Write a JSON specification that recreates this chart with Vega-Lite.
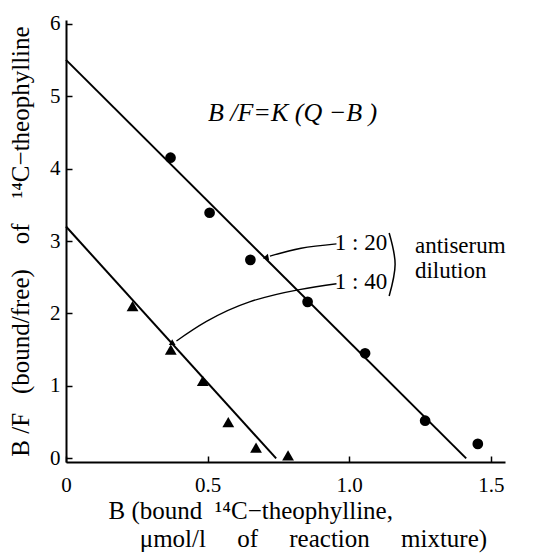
{
  "$schema": "https://vega.github.io/schema/vega-lite/v6.json",
  "autosize": "none",
  "width": 439,
  "height": 442,
  "padding": {"left": 66, "top": 20, "right": 31, "bottom": 92},
  "background": "white",
  "config": {
    "view": {"stroke": null},
    "font": "Liberation Serif",
    "text": {"font": "Liberation Serif"},
    "axis": {"grid": false, "domainColor": "black", "domainWidth": 2, "tickColor": "black", "tickWidth": 1.5, "labelColor": "black", "titleColor": "black", "labelFont": "Liberation Serif", "titleFont": "Liberation Serif", "labelFontSize": 21, "titleFontSize": 25, "titleFontWeight": "normal"}
  },
  "datasets": {
    "obs": [
      {"dilution": "1:20", "B": 0.369, "BF": 4.15},
      {"dilution": "1:20", "B": 0.507, "BF": 3.39},
      {"dilution": "1:20", "B": 0.651, "BF": 2.74},
      {"dilution": "1:20", "B": 0.853, "BF": 2.16},
      {"dilution": "1:20", "B": 1.056, "BF": 1.45},
      {"dilution": "1:20", "B": 1.268, "BF": 0.52},
      {"dilution": "1:20", "B": 1.454, "BF": 0.2},
      {"dilution": "1:40", "B": 0.235, "BF": 2.1},
      {"dilution": "1:40", "B": 0.37, "BF": 1.5},
      {"dilution": "1:40", "B": 0.483, "BF": 1.07},
      {"dilution": "1:40", "B": 0.573, "BF": 0.5},
      {"dilution": "1:40", "B": 0.671, "BF": 0.15},
      {"dilution": "1:40", "B": 0.784, "BF": 0.04}
    ],
    "fits": [
      {"dilution": "1:20", "B": 0, "BF": 5.5},
      {"dilution": "1:20", "B": 1.413, "BF": 0},
      {"dilution": "1:40", "B": 0, "BF": 3.2},
      {"dilution": "1:40", "B": 0.742, "BF": 0}
    ],
    "arrows": [
      {"id": "a20", "o": 1, "B": 0.955, "BF": 2.96},
      {"id": "a20", "o": 2, "B": 0.83, "BF": 2.9},
      {"id": "a20", "o": 3, "B": 0.72, "BF": 2.79},
      {"id": "a40", "o": 1, "B": 0.955, "BF": 2.41},
      {"id": "a40", "o": 2, "B": 0.824, "BF": 2.33},
      {"id": "a40", "o": 3, "B": 0.648, "BF": 2.16},
      {"id": "a40", "o": 4, "B": 0.496, "BF": 1.89},
      {"id": "a40", "o": 5, "B": 0.39, "BF": 1.62}
    ],
    "bracket": [
      {"o": 1, "B": 1.141, "BF": 3.11},
      {"o": 2, "B": 1.162, "BF": 2.68},
      {"o": 3, "B": 1.141, "BF": 2.24}
    ],
    "heads": [
      {"B": 0.705, "BF": 2.77, "angle": 259},
      {"B": 0.372, "BF": 1.585, "angle": 240}
    ],
    "formula": [
      {"B": 0.8, "BF": 4.77, "text": "B /F=K (Q −B )"}
    ],
    "ratios": [
      {"B": 1.134, "BF": 2.97, "text": "1 : 20"},
      {"B": 1.134, "BF": 2.43, "text": "1 : 40"}
    ],
    "notes": [
      {"B": 1.232, "BF": 2.93, "text": "antiserum"},
      {"B": 1.232, "BF": 2.58, "text": "dilution"}
    ]
  },
  "layer": [
    {
      "data": {"name": "fits"},
      "mark": {"type": "line", "color": "black", "strokeWidth": 2},
      "encoding": {
        "x": {"field": "B", "type": "quantitative", "scale": {"domain": [0, 1.55], "nice": false},
          "axis": {"values": [0, 0.5, 1, 1.5], "labelExpr": "datum.value == 0 ? '0' : format(datum.value, '.1f')", "tickSize": -6, "labelPadding": 18, "labelFlush": false,
            "title": ["B (bound \u00a0¹⁴C−theophylline,", "\u200b\u00a0\u00a0\u00a0\u00a0\u00a0μmol/l \u00a0\u00a0\u00a0\u00a0of \u00a0\u00a0\u00a0\u00a0reaction \u00a0\u00a0\u00a0\u00a0mixture)"], "titleAlign": "left", "titleAnchor": "start", "titleX": 42, "titlePadding": 3, "titleLineHeight": 28}},
        "y": {"field": "BF", "type": "quantitative", "scale": {"domain": [-0.05, 6.05], "nice": false},
          "axis": {"values": [0, 1, 2, 3, 4, 5, 6], "format": "d", "tickSize": -6, "labelPadding": 12,
            "title": "B /F \u00a0\u00a0(bound/free) \u00a0\u00a0\u00a0of \u00a0\u00a0\u00a0¹⁴C−theophylline", "titlePadding": 16}},
        "detail": {"field": "dilution"}
      }
    },
    {
      "data": {"name": "arrows"},
      "mark": {"type": "line", "color": "black", "strokeWidth": 1.3, "interpolate": "natural"},
      "encoding": {
        "x": {"field": "B", "type": "quantitative"},
        "y": {"field": "BF", "type": "quantitative"},
        "detail": {"field": "id"},
        "order": {"field": "o"}
      }
    },
    {
      "data": {"name": "bracket"},
      "mark": {"type": "line", "color": "black", "strokeWidth": 1.5, "interpolate": "natural"},
      "encoding": {
        "x": {"field": "B", "type": "quantitative"},
        "y": {"field": "BF", "type": "quantitative"},
        "order": {"field": "o"}
      }
    },
    {
      "data": {"name": "heads"},
      "mark": {"type": "point", "shape": "triangle-up", "filled": true, "color": "black", "size": 45, "opacity": 1},
      "encoding": {
        "x": {"field": "B", "type": "quantitative"},
        "y": {"field": "BF", "type": "quantitative"},
        "angle": {"field": "angle", "type": "quantitative", "scale": null}
      }
    },
    {
      "data": {"name": "obs"},
      "mark": {"type": "point", "filled": true, "color": "black", "opacity": 1},
      "encoding": {
        "x": {"field": "B", "type": "quantitative"},
        "y": {"field": "BF", "type": "quantitative"},
        "shape": {"field": "dilution", "type": "nominal", "scale": {"domain": ["1:20", "1:40"], "range": ["circle", "triangle-up"]}, "legend": null},
        "size": {"field": "dilution", "type": "nominal", "scale": {"domain": ["1:20", "1:40"], "range": [115, 140]}, "legend": null}
      }
    },
    {
      "data": {"name": "formula"},
      "mark": {"type": "text", "font": "Liberation Serif", "color": "black", "baseline": "middle", "align": "center", "fontSize": 26, "fontStyle": "italic"},
      "encoding": {
        "x": {"field": "B", "type": "quantitative"},
        "y": {"field": "BF", "type": "quantitative"},
        "text": {"field": "text"}
      }
    },
    {
      "data": {"name": "ratios"},
      "mark": {"type": "text", "font": "Liberation Serif", "color": "black", "baseline": "middle", "align": "right", "fontSize": 23},
      "encoding": {
        "x": {"field": "B", "type": "quantitative"},
        "y": {"field": "BF", "type": "quantitative"},
        "text": {"field": "text"}
      }
    },
    {
      "data": {"name": "notes"},
      "mark": {"type": "text", "font": "Liberation Serif", "color": "black", "baseline": "middle", "align": "left", "fontSize": 23},
      "encoding": {
        "x": {"field": "B", "type": "quantitative"},
        "y": {"field": "BF", "type": "quantitative"},
        "text": {"field": "text"}
      }
    }
  ]
}
